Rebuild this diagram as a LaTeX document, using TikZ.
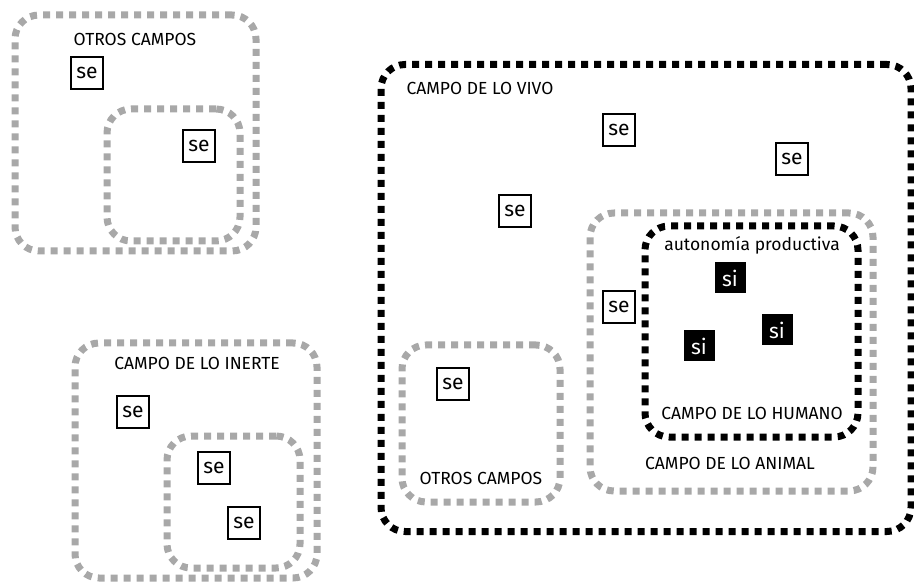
\documentclass[tikz,border=0pt]{standalone}
\usepackage{fontspec}
\setmainfont{Fira Sans}
\definecolor{dotgray}{RGB}{168,168,168}
\begin{document}
\begin{tikzpicture}[x=1pt,y=-1pt,
  region/.style={line width=7pt,dash pattern=on 7pt off 6pt,rounded corners=24pt,inner sep=0pt,outer sep=0pt},
  grayregion/.style={region,draw=dotgray},
  blackregion/.style={region,draw=black},
  sebox/.style={draw=black,line width=1.4pt,minimum size=32pt,inner sep=0pt,font=\fontsize{21}{21}\selectfont},
  sibox/.style={fill=black,text=white,minimum size=31pt,inner sep=0pt,font=\fontsize{21}{21}\selectfont},
  lbl/.style={inner sep=0pt,font=\fontsize{17.5}{20}\selectfont}
]
\useasboundingbox (0,0) rectangle (914,588);
% top-left group
\node[grayregion,minimum width=241pt,minimum height=236pt] (otrosA) at (135.5,133) {};
\node[grayregion,minimum width=133pt,minimum height=132pt] (otrosAin) at (173.5,175) {};
\node[lbl] (lotrosA) at (135,39) {OTROS CAMPOS};
\node[sebox] (seA1) at (87,73) {se};
\node[sebox] (seA2) at (199,146) {se};
% bottom-left group
\node[grayregion,minimum width=242pt,minimum height=235pt] (inerte) at (196,460.5) {};
\node[grayregion,minimum width=133pt,minimum height=132pt] (inertein) at (233.5,502) {};
\node[lbl] (linerte) at (197,363) {CAMPO DE LO INERTE};
\node[sebox] (seB1) at (133,412) {se};
\node[sebox] (seB2) at (214,468) {se};
\node[sebox] (seB3) at (244,523) {se};
% big group
\node[blackregion,minimum width=530pt,minimum height=467pt] (vivo) at (646,298) {};
\node[lbl] (lvivo) at (480,88) {CAMPO DE LO VIVO};
\node[sebox] (seC1) at (619,130) {se};
\node[sebox] (seC2) at (792,159) {se};
\node[sebox] (seC3) at (515,211) {se};
\node[grayregion,minimum width=283pt,minimum height=278pt] (animal) at (731.5,352) {};
\node[blackregion,minimum width=213pt,minimum height=211pt] (humano) at (751.5,331.5) {};
\node[lbl] (lauto) at (752,245) {autonomía productiva};
\node[sibox] (si1) at (730,278) {si};
\node[sibox] (si2) at (777,330) {si};
\node[sibox] (si3) at (699,346) {si};
\node[lbl] (lhumano) at (752,413) {CAMPO DE LO HUMANO};
\node[lbl] (lanimal) at (730,463) {CAMPO DE LO ANIMAL};
\node[sebox] (seC4) at (619,307) {se};
\node[grayregion,minimum width=158pt,minimum height=157pt] (otrosC) at (481,423.5) {};
\node[sebox] (seC5) at (453,384) {se};
\node[lbl] (lotrosC) at (481,478) {OTROS CAMPOS};
\end{tikzpicture}
\end{document}
